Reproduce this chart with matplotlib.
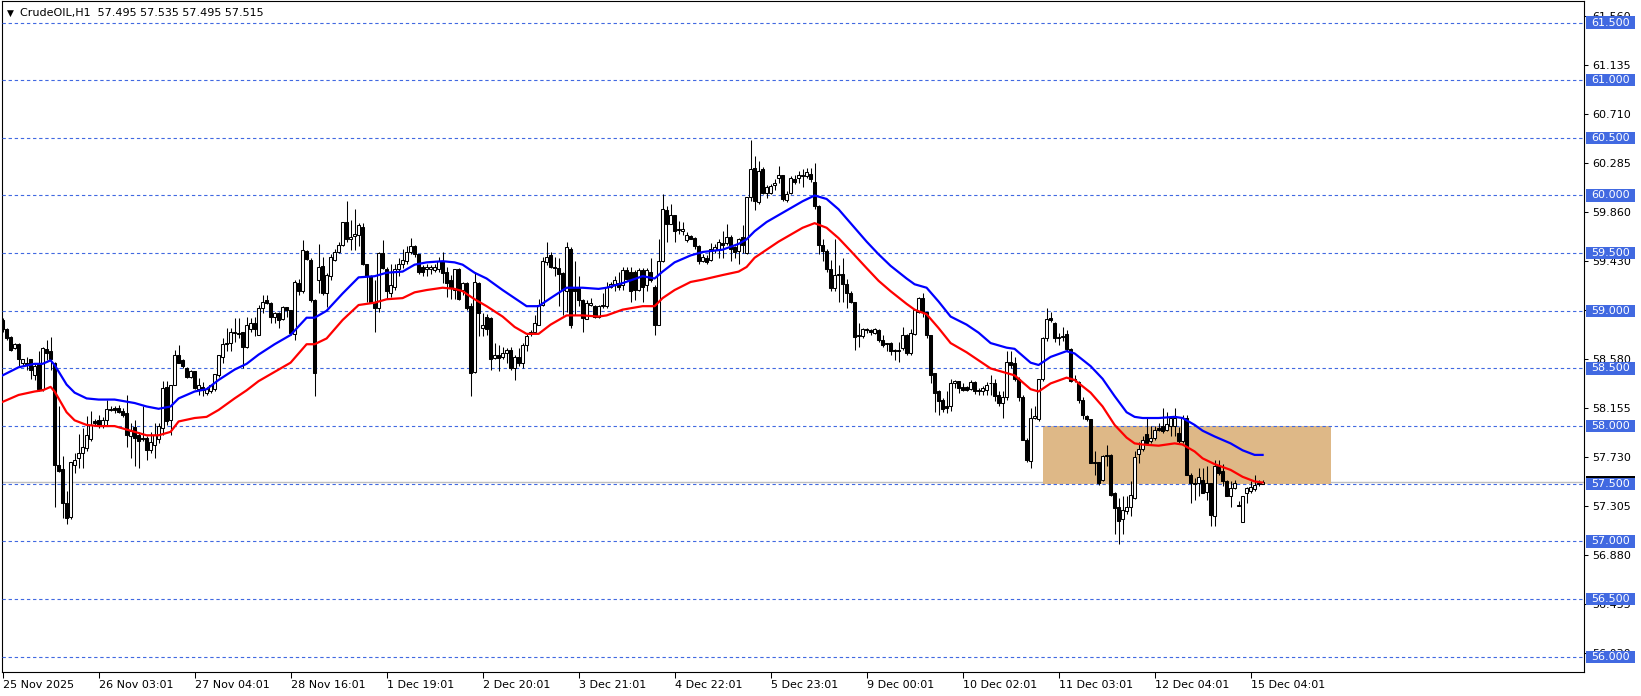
import numpy as np
import matplotlib
matplotlib.use('Agg')
import matplotlib.pyplot as plt
import matplotlib.transforms as mtransforms
from matplotlib.patches import Rectangle

# H1 candles, bar 0 = 25 Nov 2025 ... bar 315 = 15 Dec
opens = [
    58.92, 58.84, 58.77, 58.68, 58.71, 58.55, 58.55, 58.58, 58.44, 58.54,
    58.32, 58.67, 58.65, 58.55, 57.66, 57.63, 57.33, 57.21, 57.66, 57.72,
    57.77, 57.81, 57.89, 58.04, 58.05, 58.01, 58.05, 58.15, 58.16, 58.16,
    58.13, 58.11, 57.91, 57.99, 57.92, 57.90, 57.90, 57.79, 57.84, 57.89,
    57.98, 58.34, 58.05, 58.36, 58.62, 58.57, 58.50, 58.43, 58.48, 58.32,
    58.34, 58.29, 58.30, 58.32, 58.44, 58.60, 58.71, 58.72, 58.81, 58.81,
    58.82, 58.69, 58.84, 58.89, 58.79, 59.02, 59.09, 59.07, 58.95, 58.98,
    58.93, 59.03, 59.01, 58.80, 59.24, 59.17, 59.52, 59.44, 59.09, 59.27,
    59.39, 59.15, 59.30, 59.44, 59.51, 59.57, 59.77, 59.62, 59.65, 59.66,
    59.73, 59.41, 59.30, 59.08, 59.02, 59.50, 59.36, 59.15, 59.21, 59.36,
    59.41, 59.43, 59.51, 59.56, 59.49, 59.38, 59.36, 59.36, 59.35, 59.36,
    59.43, 59.34, 59.27, 59.18, 59.36, 59.18, 59.24, 59.04, 58.47, 59.24,
    58.85, 58.95, 58.94, 58.59, 58.62, 58.60, 58.63, 58.66, 58.50, 58.60,
    58.55, 58.70, 58.80, 58.82, 58.88, 59.05, 59.42, 59.48, 59.38, 59.37,
    59.33, 59.17, 59.54, 59.20, 59.20, 59.09, 58.93, 59.05, 59.04, 58.95,
    59.05, 59.04, 59.21, 59.23, 59.24, 59.22, 59.35, 59.34, 59.34, 59.18,
    59.35, 59.22, 59.34, 59.21, 58.88, 59.43, 59.87, 59.75, 59.83, 59.70,
    59.69, 59.61, 59.65, 59.63, 59.56, 59.43, 59.46, 59.44, 59.53, 59.53,
    59.59, 59.59, 59.64, 59.55, 59.52, 59.64, 59.50, 59.99, 60.24, 59.94,
    60.23, 60.02, 60.02, 60.09, 60.15, 60.18, 59.96, 60.02, 60.14, 60.15,
    60.18, 60.17, 60.19, 60.12, 59.91, 59.57, 59.52, 59.36, 59.20, 59.31,
    59.32, 59.23, 59.15, 59.08, 58.78, 58.78, 58.84, 58.83, 58.81, 58.83,
    58.75, 58.72, 58.72, 58.66, 58.66, 58.68, 58.79, 58.63, 58.80, 58.99,
    59.11, 58.99, 58.79, 58.46, 58.30, 58.23, 58.17, 58.17, 58.37, 58.39,
    58.34, 58.34, 58.32, 58.38, 58.31, 58.30, 58.31, 58.37, 58.37, 58.27,
    58.20, 58.25, 58.56, 58.55, 58.41, 58.25, 57.88, 57.70, 58.07, 58.06,
    58.41, 58.76, 58.94, 58.89, 58.76, 58.78, 58.80, 58.67, 58.40, 58.38,
    58.23, 58.09, 58.06, 57.69, 57.69, 57.53, 57.74, 57.75, 57.42, 57.30,
    57.19, 57.26, 57.30, 57.38, 57.76, 57.80, 57.93, 57.87, 57.90, 57.98,
    58.00, 57.97, 58.00, 58.00, 57.94, 57.87, 58.07, 57.58, 57.51, 57.51,
    57.53, 57.43, 57.51, 57.22, 57.65, 57.61, 57.52, 57.39, 57.46, 57.31,
    57.17, 57.42, 57.44, 57.45, 57.51, 57.495,
]
highs = [
    58.94, 58.85, 58.78, 58.72, 58.72, 58.58, 58.60, 58.58, 58.55, 58.65,
    58.69, 58.75, 58.77, 58.56, 58.17, 57.74, 57.44, 57.69, 57.77, 57.93,
    57.98, 58.09, 58.13, 58.06, 58.10, 58.08, 58.23, 58.17, 58.17, 58.18,
    58.16, 58.27, 58.03, 58.05, 57.95, 58.17, 57.91, 57.95, 58.03, 58.03,
    58.39, 58.39, 58.36, 58.66, 58.70, 58.58, 58.51, 58.49, 58.48, 58.42,
    58.38, 58.34, 58.36, 58.45, 58.62, 58.76, 58.85, 58.85, 58.94, 58.94,
    58.82, 58.95, 58.94, 58.95, 59.05, 59.14, 59.14, 59.08, 58.99, 58.99,
    59.04, 59.03, 59.01, 59.27, 59.28, 59.61, 59.53, 59.46, 59.10, 59.58,
    59.47, 59.33, 59.49, 59.54, 59.60, 59.77, 59.95, 59.79, 59.88, 59.76,
    59.76, 59.41, 59.31, 59.27, 59.51, 59.61, 59.38, 59.41, 59.41, 59.46,
    59.54, 59.56, 59.63, 59.57, 59.49, 59.40, 59.41, 59.40, 59.41, 59.47,
    59.51, 59.38, 59.31, 59.36, 59.37, 59.25, 59.25, 59.07, 59.34, 59.25,
    58.98, 58.97, 58.95, 58.72, 58.70, 58.69, 58.68, 58.69, 58.62, 58.68,
    58.72, 58.80, 58.83, 58.96, 59.10, 59.47, 59.60, 59.51, 59.47, 59.46,
    59.34, 59.60, 59.55, 59.43, 59.30, 59.10, 59.09, 59.11, 59.05, 59.05,
    59.15, 59.25, 59.25, 59.30, 59.34, 59.38, 59.38, 59.38, 59.35, 59.37,
    59.37, 59.37, 59.46, 59.22, 59.62, 60.01, 59.91, 59.93, 59.83, 59.78,
    59.77, 59.68, 59.66, 59.64, 59.57, 59.49, 59.48, 59.59, 59.58, 59.62,
    59.69, 59.75, 59.66, 59.56, 59.63, 59.74, 59.99, 60.48, 60.34, 60.30,
    60.25, 60.09, 60.10, 60.14, 60.26, 60.18, 60.04, 60.17, 60.18, 60.21,
    60.23, 60.24, 60.24, 60.28, 59.92, 59.62, 59.54, 59.44, 59.62, 59.40,
    59.46, 59.28, 59.17, 59.08, 58.89, 58.85, 58.85, 58.84, 58.85, 58.84,
    58.79, 58.72, 58.73, 58.67, 58.73, 58.86, 58.80, 58.84, 59.01, 59.12,
    59.15, 58.99, 58.79, 58.46, 58.31, 58.24, 58.30, 58.41, 58.40, 58.39,
    58.37, 58.35, 58.40, 58.39, 58.33, 58.35, 58.38, 58.44, 58.41, 58.30,
    58.30, 58.65, 58.65, 58.60, 58.43, 58.27, 57.90, 58.16, 58.17, 58.41,
    58.77, 59.02, 58.99, 58.90, 58.81, 58.86, 58.83, 58.68, 58.44, 58.39,
    58.25, 58.10, 58.06, 57.78, 57.69, 57.75, 57.84, 57.76, 57.43, 57.38,
    57.39, 57.39, 57.52, 57.78, 57.86, 57.91, 58.07, 58.00, 58.00, 58.03,
    58.16, 58.12, 58.09, 58.16, 57.99, 58.10, 58.10, 57.59, 57.55, 57.64,
    57.64, 57.65, 57.51, 57.71, 57.71, 57.67, 57.53, 57.52, 57.53, 57.35,
    57.39, 57.47, 57.52, 57.58, 57.53, 57.535,
]
lows = [
    58.82, 58.75, 58.65, 58.67, 58.51, 58.52, 58.49, 58.41, 58.40, 58.30,
    58.30, 58.57, 58.49, 57.30, 57.60, 57.20, 57.15, 57.19, 57.59, 57.64,
    57.64, 57.78, 57.87, 58.01, 57.98, 57.98, 58.01, 58.13, 58.11, 58.11,
    58.08, 57.82, 57.72, 57.65, 57.64, 57.87, 57.71, 57.77, 57.72, 57.85,
    57.92, 58.01, 57.92, 58.36, 58.55, 58.50, 58.42, 58.42, 58.32, 58.27,
    58.26, 58.27, 58.29, 58.30, 58.43, 58.55, 58.65, 58.65, 58.73, 58.76,
    58.50, 58.68, 58.82, 58.78, 58.79, 58.98, 59.06, 58.89, 58.89, 58.85,
    58.92, 58.95, 58.79, 58.75, 59.14, 59.15, 59.44, 59.08, 58.26, 59.15,
    59.14, 59.03, 59.27, 59.43, 59.50, 59.56, 59.60, 59.53, 59.53, 59.56,
    59.40, 59.08, 59.07, 58.82, 58.99, 59.36, 59.10, 59.12, 59.18, 59.30,
    59.37, 59.41, 59.49, 59.47, 59.32, 59.30, 59.30, 59.32, 59.34, 59.34,
    59.24, 59.12, 59.10, 59.10, 59.09, 59.14, 59.01, 58.26, 58.46, 58.78,
    58.78, 58.79, 58.49, 58.58, 58.48, 58.58, 58.55, 58.49, 58.40, 58.52,
    58.50, 58.65, 58.78, 58.80, 58.88, 59.04, 59.40, 59.37, 59.30, 59.04,
    58.96, 58.99, 58.85, 58.96, 59.04, 58.82, 58.93, 59.04, 58.94, 58.94,
    59.02, 59.02, 59.20, 59.17, 59.18, 59.18, 59.27, 59.08, 59.09, 59.17,
    59.08, 59.17, 59.25, 58.79, 58.88, 59.42, 59.60, 59.75, 59.60, 59.67,
    59.66, 59.60, 59.62, 59.54, 59.41, 59.42, 59.41, 59.43, 59.50, 59.46,
    59.46, 59.57, 59.43, 59.46, 59.41, 59.50, 59.49, 59.95, 59.87, 59.93,
    60.01, 59.98, 60.01, 60.05, 60.11, 59.95, 59.94, 60.01, 60.10, 60.11,
    60.07, 60.15, 60.12, 59.88, 59.49, 59.43, 59.34, 59.17, 59.17, 59.08,
    59.08, 59.02, 59.07, 58.66, 58.69, 58.76, 58.81, 58.79, 58.80, 58.73,
    58.69, 58.65, 58.62, 58.57, 58.56, 58.66, 58.62, 58.62, 58.79, 58.98,
    58.95, 58.76, 58.37, 58.12, 58.10, 58.12, 58.11, 58.13, 58.33, 58.29,
    58.30, 58.30, 58.31, 58.28, 58.27, 58.27, 58.27, 58.27, 58.22, 58.17,
    58.07, 58.23, 58.50, 58.39, 58.22, 57.88, 57.69, 57.64, 58.06, 58.04,
    58.39, 58.74, 58.90, 58.73, 58.70, 58.74, 58.65, 58.38, 58.38, 58.20,
    58.06, 58.04, 57.68, 57.58, 57.49, 57.52, 57.65, 57.39, 57.06, 56.98,
    57.06, 57.24, 57.22, 57.37, 57.68, 57.78, 57.84, 57.85, 57.88, 57.96,
    57.94, 57.96, 57.91, 57.91, 57.85, 57.85, 57.58, 57.33, 57.36, 57.39,
    57.42, 57.36, 57.13, 57.13, 57.58, 57.48, 57.39, 57.30, 57.45, 57.31,
    57.17, 57.33, 57.42, 57.44, 57.48, 57.495,
]
closes = [
    58.84, 58.76, 58.66, 58.71, 58.58, 58.58, 58.53, 58.49, 58.52, 58.32,
    58.68, 58.63, 58.58, 57.66, 57.61, 57.33, 57.20, 57.69, 57.71, 57.77,
    57.82, 57.92, 58.01, 58.03, 58.01, 58.05, 58.15, 58.14, 58.14, 58.12,
    58.10, 57.92, 57.96, 57.90, 57.87, 57.89, 57.79, 57.86, 57.92, 58.00,
    58.33, 58.04, 58.36, 58.62, 58.55, 58.52, 58.43, 58.48, 58.33, 58.36,
    58.31, 58.32, 58.36, 58.45, 58.62, 58.71, 58.72, 58.82, 58.82, 58.80,
    58.69, 58.88, 58.89, 58.84, 59.02, 59.08, 59.07, 58.95, 58.98, 58.92,
    59.03, 59.01, 58.81, 59.25, 59.17, 59.53, 59.45, 59.09, 58.46, 59.38,
    59.15, 59.31, 59.47, 59.51, 59.57, 59.77, 59.62, 59.64, 59.67, 59.74,
    59.41, 59.30, 59.08, 59.02, 59.50, 59.37, 59.17, 59.22, 59.36, 59.41,
    59.44, 59.51, 59.56, 59.49, 59.34, 59.34, 59.38, 59.38, 59.38, 59.43,
    59.33, 59.24, 59.21, 59.36, 59.10, 59.24, 59.02, 58.46, 59.25, 58.98,
    58.88, 58.84, 58.58, 58.62, 58.59, 58.63, 58.66, 58.50, 58.60, 58.55,
    58.70, 58.78, 58.82, 58.89, 59.05, 59.43, 59.47, 59.38, 59.37, 59.32,
    59.18, 59.55, 58.88, 59.17, 59.09, 58.94, 59.07, 59.07, 58.95, 59.04,
    59.04, 59.21, 59.23, 59.27, 59.21, 59.35, 59.28, 59.17, 59.18, 59.35,
    59.21, 59.35, 59.27, 58.88, 59.43, 59.88, 59.75, 59.83, 59.69, 59.71,
    59.71, 59.66, 59.62, 59.56, 59.43, 59.47, 59.42, 59.54, 59.55, 59.60,
    59.57, 59.64, 59.54, 59.51, 59.62, 59.57, 59.99, 60.23, 59.95, 60.21,
    60.02, 60.07, 60.08, 60.11, 60.18, 59.97, 60.01, 60.15, 60.12, 60.18,
    60.17, 60.20, 60.14, 59.91, 59.57, 59.52, 59.36, 59.20, 59.31, 59.32,
    59.23, 59.15, 59.08, 58.77, 58.79, 58.84, 58.83, 58.82, 58.84, 58.75,
    58.70, 58.71, 58.65, 58.65, 58.65, 58.79, 58.63, 58.81, 59.01, 59.11,
    58.99, 58.79, 58.44, 58.29, 58.22, 58.15, 58.16, 58.37, 58.39, 58.33,
    58.31, 58.31, 58.38, 58.30, 58.30, 58.33, 58.36, 58.37, 58.26, 58.20,
    58.25, 58.56, 58.53, 58.41, 58.25, 57.88, 57.71, 58.07, 58.09, 58.41,
    58.76, 58.93, 58.92, 58.76, 58.77, 58.77, 58.67, 58.39, 58.41, 58.23,
    58.10, 58.06, 57.68, 57.68, 57.51, 57.74, 57.75, 57.40, 57.29, 57.18,
    57.27, 57.30, 57.40, 57.73, 57.80, 57.88, 57.85, 57.90, 57.97, 57.97,
    57.96, 58.02, 58.07, 58.07, 57.87, 58.07, 57.58, 57.51, 57.50, 57.56,
    57.42, 57.51, 57.23, 57.65, 57.59, 57.52, 57.39, 57.46, 57.51, 57.31,
    57.39, 57.46, 57.47, 57.49, 57.50, 57.515,
]

# moving averages (blue = on highs, red = on lows), read at sample bars
ma_bars = [0, 4, 8, 10, 12, 13, 16, 18, 21, 24, 28, 33, 36, 39, 42, 44, 48, 51, 54, 58,
           61, 64, 68, 72, 76, 78, 81, 85, 89, 93, 96, 100, 103, 106, 110, 113, 115, 118, 121, 125,
           128, 131, 134, 137, 141, 145, 149, 151, 155, 160, 163, 165, 168, 172, 175, 180, 184, 186, 188, 191,
           194, 197, 200, 203, 206, 209, 212, 216, 219, 222, 226, 228, 231, 234, 237, 241, 244, 247, 251, 253,
           254, 257, 259, 262, 266, 268, 272, 275, 278, 281, 283, 285, 289, 293, 295, 298, 300, 303, 307, 310,
           313, 315]
ma_blue = [58.44, 58.51, 58.54, 58.54, 58.57, 58.53, 58.36, 58.29, 58.24, 58.23, 58.23, 58.20, 58.17, 58.15, 58.17, 58.24, 58.30, 58.32, 58.40, 58.49,
           58.54, 58.62, 58.71, 58.79, 58.94, 58.94, 59.00, 59.15, 59.29, 59.30, 59.33, 59.34, 59.40, 59.42, 59.43, 59.42, 59.40, 59.33, 59.28, 59.18,
           59.11, 59.04, 59.04, 59.11, 59.20, 59.20, 59.19, 59.20, 59.24, 59.30, 59.28, 59.34, 59.42, 59.48, 59.51, 59.53, 59.58, 59.62, 59.69, 59.77,
           59.83, 59.89, 59.95, 60.00, 59.97, 59.88, 59.76, 59.60, 59.49, 59.39, 59.28, 59.23, 59.20, 59.08, 58.95, 58.88, 58.81, 58.72, 58.68, 58.67,
           58.64, 58.55, 58.53, 58.60, 58.65, 58.63, 58.52, 58.41, 58.26, 58.12, 58.08, 58.07, 58.07, 58.08, 58.07, 58.01, 57.96, 57.91, 57.85, 57.79,
           57.75, 57.75]
ma_red = [58.21, 58.27, 58.30, 58.31, 58.34, 58.30, 58.12, 58.05, 58.01, 58.00, 58.00, 57.95, 57.92, 57.92, 57.95, 58.04, 58.07, 58.08, 58.14, 58.24,
          58.31, 58.39, 58.47, 58.55, 58.71, 58.71, 58.76, 58.92, 59.05, 59.07, 59.10, 59.11, 59.16, 59.18, 59.20, 59.19, 59.17, 59.10, 59.04, 58.95,
          58.86, 58.80, 58.80, 58.88, 58.96, 58.96, 58.95, 58.96, 59.01, 59.04, 59.04, 59.11, 59.18, 59.25, 59.27, 59.31, 59.34, 59.38, 59.46, 59.53,
          59.60, 59.66, 59.72, 59.76, 59.72, 59.63, 59.52, 59.37, 59.26, 59.17, 59.06, 59.01, 58.97, 58.85, 58.72, 58.64, 58.57, 58.50, 58.46, 58.44,
          58.41, 58.32, 58.30, 58.37, 58.42, 58.40, 58.29, 58.17, 58.01, 57.90, 57.85, 57.84, 57.83, 57.85, 57.84, 57.78, 57.72, 57.67, 57.62, 57.56,
          57.52, 57.51]

levels = [61.5, 61.0, 60.5, 60.0, 59.5, 59.0, 58.5, 58.0, 57.5, 57.0, 56.5, 56.0]
price_ticks = [61.560, 61.135, 60.710, 60.285, 59.860, 59.430, 59.005,
               58.580, 58.155, 57.730, 57.305, 56.880, 56.455, 56.030]
time_ticks = [0, 24, 48, 72, 96, 120, 144, 168, 192, 216, 240, 264, 288, 312]
time_labels = ['25 Nov 2025', '26 Nov 03:01', '27 Nov 04:01', '28 Nov 16:01', '1 Dec 19:01',
               '2 Dec 20:01', '3 Dec 21:01', '4 Dec 22:01', '5 Dec 23:01', '9 Dec 00:01',
               '10 Dec 02:01', '11 Dec 03:01', '12 Dec 04:01', '15 Dec 04:01']
zone_start, zone_end = 260.1, 332.1
zone_low, zone_high = 57.5, 58.0
bid = 57.515
title = 'CrudeOIL,H1  57.495 57.535 57.495 57.515'

W, H = 1641, 696
BLUE_LVL = '#4169E1'
fig = plt.figure(figsize=(W / 100, H / 100), dpi=100)
ax = fig.add_axes([2 / W, (H - 672) / H, (1584 - 2) / W, 671 / H])
ax.set_xlim(-0.15, 395.35)
ax.set_ylim(55.867, 61.687)

x = np.arange(len(closes))
o = np.array(opens)
c = np.array(closes)
hi = np.array(highs)
lo = np.array(lows)

# levels, bid line, zone
for lv in levels:
    ax.axhline(lv, color=BLUE_LVL, lw=0.8, ls=(0, (3, 2.5)), zorder=3)
ax.axhline(bid, color='#C0C0C0', lw=1.0, zorder=1)
ax.add_patch(Rectangle((zone_start, zone_low), zone_end - zone_start, zone_high - zone_low,
                       facecolor='#DEB887', edgecolor='none', zorder=2))

# candles
ax.vlines(x, lo, hi, color='black', lw=0.75, zorder=4)
body_low = np.minimum(o, c)
body_h = np.maximum(np.abs(c - o), 0.004)
up = c >= o
ax.bar(x[up], body_h[up], bottom=body_low[up], width=0.6, facecolor='white',
       edgecolor='black', lw=0.75, zorder=5)
ax.bar(x[~up], body_h[~up], bottom=body_low[~up], width=0.6, facecolor='black',
       edgecolor='black', lw=0.75, zorder=5)

# moving averages
ax.plot(ma_bars, ma_blue, color='#0000FF', lw=1.6, zorder=6)
ax.plot(ma_bars, ma_red, color='#FF0000', lw=1.6, zorder=6)

# axes styling
for s in ax.spines.values():
    s.set_color('black')
    s.set_linewidth(0.8)
ax.yaxis.tick_right()
ax.set_yticks(price_ticks, [f'{v:.3f}' for v in price_ticks])
ax.tick_params(axis='y', length=3, width=0.75, pad=3, labelsize=8, colors='black')
ax.set_xticks(time_ticks, time_labels)
ax.tick_params(axis='x', length=4, width=0.75, pad=1.5, labelsize=8, colors='black')
for lbl in ax.get_xticklabels():
    lbl.set_horizontalalignment('left')

# price labels on the right
trans = mtransforms.blended_transform_factory(ax.transAxes, ax.transData)
bx0 = (1586 - 2) / 1582
bw = 49 / 1582
bh = 12.3 / 115.3
ax.add_patch(Rectangle((bx0, bid - bh / 2), bw, bh, transform=trans, facecolor='black',
                       edgecolor='none', clip_on=False, zorder=9))
for lv in levels:
    ax.add_patch(Rectangle((bx0, lv - bh / 2), bw, bh, transform=trans, facecolor=BLUE_LVL,
                           edgecolor='none', clip_on=False, zorder=10))
    ax.text(bx0 + bw / 2, lv, f'{lv:.3f}', transform=trans, color='white', fontsize=8,
            ha='center', va='center', clip_on=False, zorder=11)

fig.text(7 / W, 1 - 13 / H, '\u25BC', fontsize=6.5, va='center', ha='left')
fig.text(20 / W, 1 - 13 / H, title, fontsize=8, va='center', ha='left')

fig.savefig('out.png', dpi=100, facecolor='white')
